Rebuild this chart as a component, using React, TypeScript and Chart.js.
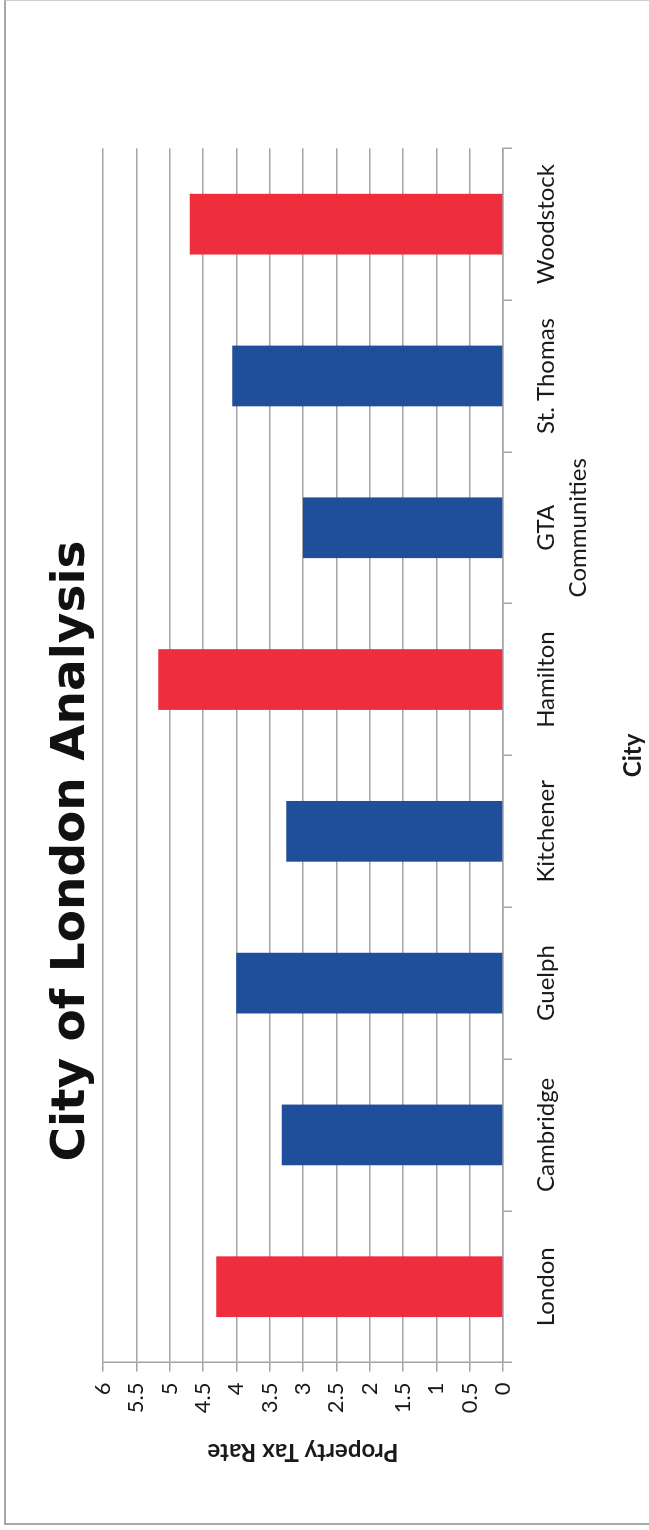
import React, { useEffect, useRef } from "react";
import { Chart, registerables } from "chart.js";

Chart.register(...registerables);

// ---- data ----
const cities: (string | string[])[] = [
  "London",
  "Cambridge",
  "Guelph",
  "Kitchener",
  "Hamilton",
  ["GTA", "Communities"],
  "St. Thomas",
  "Woodstock",
];
const taxRates = [4.3, 3.32, 4.0, 3.25, 5.17, 3.0, 4.06, 4.7];
const highlightedCities = ["London", "Hamilton", "Woodstock"];
const valueMin = 0;
const valueMax = 6;
const valueStep = 0.5;
const chartTitle = "City of London Analysis";
const xAxisTitle = "City";
const yAxisTitle = "Property Tax Rate";

// ---- style ----
const RED = "#EE2D3D";
const BLUE = "#1F4E9B";
const GRID = "#a3a3a8";
const TEXT = "#1a1a1a";
const FONT = "Lato";
const TITLE_FONT = "'DejaVu Sans'";

// landscape chart size (before rotation)
const W = 1530;
const H = 649;
const CANVAS_LEFT = -27;
const CANVAS_W = 1412;

export default function App() {
  const ref = useRef<HTMLCanvasElement | null>(null);

  useEffect(() => {
    if (!ref.current) return;
    const colors = cities.map((c) =>
      highlightedCities.includes(Array.isArray(c) ? c.join(" ") : c) ? RED : BLUE
    );
    const chart = new Chart(ref.current, {
      type: "bar",
      data: {
        labels: cities,
        datasets: [
          {
            data: taxRates,
            backgroundColor: colors,
            borderWidth: 0,
            categoryPercentage: 0.8,
            barPercentage: 0.5,
          },
        ],
      },
      options: {
        responsive: false,
        animation: false,
        devicePixelRatio: 1,
        layout: { padding: 0 },
        plugins: {
          legend: { display: false },
          tooltip: { enabled: false },
          title: {
            display: true,
            text: chartTitle,
            color: "#111111",
            font: { family: TITLE_FONT, size: 47, weight: "bold", lineHeight: 1.2 },
            padding: { top: 44, bottom: 2.6 },
          },
        },
        scales: {
          x: {
            offset: true,
            grid: {
              display: true,
              drawOnChartArea: false,
              drawTicks: true,
              tickLength: 9,
              color: GRID,
              lineWidth: 1.5,
            },
            border: { display: true, color: GRID, width: 1.5 },
            ticks: {
              color: TEXT,
              font: { family: FONT, size: 24, lineHeight: 1.3 },
              padding: 19,
              maxRotation: 0,
              minRotation: 0,
              autoSkip: false,
            },
            title: {
              display: true,
              text: xAxisTitle,
              color: TEXT,
              font: { family: FONT, size: 24, weight: "bold", lineHeight: 1.2 },
              padding: { top: 0, bottom: 1 },
            },
            afterFit: (s: any) => {
              s.height = 146;
            },
          },
          y: {
            min: valueMin,
            max: valueMax,
            grid: {
              color: GRID,
              lineWidth: 1.5,
              tickLength: 9,
              drawTicks: true,
            },
            border: { display: true, color: GRID, width: 1.5 },
            ticks: {
              stepSize: valueStep,
              color: TEXT,
              font: { family: FONT, size: 22 },
              padding: 11,
              callback: (v: any) => String(Math.round(Number(v) * 100) / 100),
            },
            title: {
              display: true,
              text: yAxisTitle,
              color: TEXT,
              font: { family: FONT, size: 24, weight: "bold", lineHeight: 1.2 },
              padding: { top: 90.6, bottom: 0 },
            },
            afterFit: (s: any) => {
              s.width = 194.4;
            },
          },
        },
      } as any,
    });
    return () => chart.destroy();
  }, []);

  return (
    <div
      style={{
        position: "absolute",
        left: 0,
        top: 0,
        width: H,
        height: W,
        overflow: "hidden",
        background: "#ffffff",
      }}
    >
      <div
        style={{
          position: "absolute",
          left: 0,
          top: 0,
          width: W,
          height: H,
          transformOrigin: "0 0",
          transform: `translateY(${W}px) rotate(-90deg)`,
        }}
      >
        <canvas
          ref={ref}
          width={CANVAS_W}
          height={H}
          style={{
            position: "absolute",
            left: CANVAS_LEFT,
            top: 0,
            width: CANVAS_W,
            height: H,
            display: "block",
          }}
        />
      </div>
      <div
        style={{
          position: "absolute",
          left: 4,
          top: 0,
          width: H - 4,
          height: W - 5,
          borderLeft: "2px solid #a8a8a8",
          borderBottom: "2px solid #a8a8a8",
          borderTop: "1px solid #cfcfcf",
          boxSizing: "border-box",
          pointerEvents: "none",
        }}
      />
    </div>
  );
}
